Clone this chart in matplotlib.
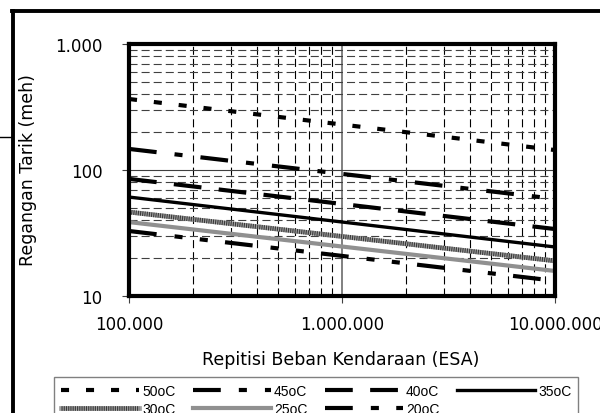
import matplotlib
matplotlib.use("Agg")
import matplotlib.pyplot as plt
from matplotlib.lines import Line2D
from matplotlib.ticker import FixedLocator, FuncFormatter, NullFormatter, LogLocator
from matplotlib.legend_handler import HandlerTuple

plt.rcParams['lines.scale_dashes'] = False
plt.rcParams['font.family'] = ['DejaVu Sans']

# repetisi beban (ESA) and tensile strain per temperature
esa = [1e5, 1e7]
t50 = [366, 144]
t45 = [147, 59]
t40 = [85, 34]
t35 = [61, 24.5]
t30 = [46.4, 19.0]
t25 = [38.6, 15.8]
t20 = [32.8, 13.2]
labels = ['50oC', '45oC', '40oC', '35oC', '30oC', '25oC', '20oC']
xticks = [1e5, 1e6, 1e7]
yticks = [10, 100, 1000]

W, H = 600, 414
fig = plt.figure(figsize=(W / 100, H / 100), dpi=100)
ax = fig.add_axes([129 / W, 1 - 297 / H, (555 - 129) / W, (297 - 45) / H])
ax.set_xscale('log')
ax.set_yscale('log')
ax.set_xlim(esa[0], esa[-1])
ax.set_ylim(yticks[0], yticks[-1])

def dotted_num(v, pos=None):
    return f"{int(round(v)):,}".replace(',', '.')

ax.xaxis.set_major_locator(FixedLocator(xticks))
ax.yaxis.set_major_locator(FixedLocator(yticks))
ax.xaxis.set_major_formatter(FuncFormatter(dotted_num))
ax.yaxis.set_major_formatter(FuncFormatter(dotted_num))
ax.xaxis.set_minor_locator(LogLocator(base=10, subs=range(2, 10)))
ax.yaxis.set_minor_locator(LogLocator(base=10, subs=range(2, 10)))
ax.xaxis.set_minor_formatter(NullFormatter())
ax.yaxis.set_minor_formatter(NullFormatter())
ax.tick_params(which='minor', length=0)
ax.tick_params(which='major', direction='out', length=5, width=0.8, color='#404040', labelsize=12)
ax.tick_params(axis='x', pad=9)
ax.tick_params(axis='y', pad=14)

# grid
grid_dash = (0, (5.8, 2.9))
ax.grid(which='minor', axis='x', color='black', linestyle=grid_dash, lw=0.8)
ax.grid(which='minor', axis='y', color='#404040', linestyle=grid_dash, lw=0.8)
ax.grid(which='major', axis='x', color='#808080', linestyle='-', lw=1.4)
ax.grid(which='major', axis='y', color='#404040', linestyle='-', lw=0.8)
ax.set_axisbelow(True)

for s in ax.spines.values():
    s.set_linewidth(3)
    s.set_color('black')

h50, = ax.plot(esa, t50, color='black', lw=3, linestyle=(0, (5.8, 12.2)), dash_capstyle='butt')
h45, = ax.plot(esa, t45, color='black', lw=3, linestyle=(0, (20, 13, 5.8, 13)), dash_capstyle='butt')
h40, = ax.plot(esa, t40, color='black', lw=3, linestyle=(0, (20, 12.5)), dash_capstyle='butt')
h35, = ax.plot(esa, t35, color='black', lw=2.4)
h30a, = ax.plot(esa, t30, color='#a0a0a0', lw=3.4)
h30b, = ax.plot(esa, t30, color='#3a3a3a', lw=3.4, linestyle=(0, (0.8, 0.8)), dash_capstyle='butt')
h25, = ax.plot(esa, t25, color='#909090', lw=3)
h20, = ax.plot(esa, t20, color='black', lw=3, linestyle=(0, (20, 13, 5.8, 12.5, 5.8, 12.5)), dash_capstyle='butt')

fig.text(341 / W, 1 - 360 / H, 'Repitisi Beban Kendaraan (ESA)', ha='center', va='center', fontsize=12.5)
fig.text(28 / W, 1 - 170 / H, 'Regangan Tarik (meh)', ha='center', va='center', rotation=90, fontsize=12.5)

handles = [h50, (h30a, h30b), h45, h25, h40, h20, h35]
names = [labels[0], labels[4], labels[1], labels[5], labels[2], labels[6], labels[3]]
leg = fig.legend(handles, names, loc='upper left', bbox_to_anchor=(54 / W, 1 - 378 / H),
                 ncol=4, handlelength=5.6, handletextpad=0.25, columnspacing=1.25,
                 labelspacing=0.3, borderpad=0.5, borderaxespad=0, fancybox=False,
                 framealpha=1, edgecolor='#808080',
                 prop={'family': 'Liberation Sans', 'size': 10},
                 handler_map={tuple: HandlerTuple(ndivide=1)})
leg.get_frame().set_linewidth(1)

# outer chart frame (cropped)
fig.add_artist(Line2D([13 / W, 13 / W], [0, 1 - 11.5 / H], color='black', lw=2.8, transform=fig.transFigure))
fig.add_artist(Line2D([12 / W, 1], [1 - 11.5 / H, 1 - 11.5 / H], color='black', lw=2.8, transform=fig.transFigure))
fig.add_artist(Line2D([0, 12 / W], [1 - 137.5 / H, 1 - 137.5 / H], color='black', lw=1, transform=fig.transFigure))

fig.savefig('out.png', dpi=100)
